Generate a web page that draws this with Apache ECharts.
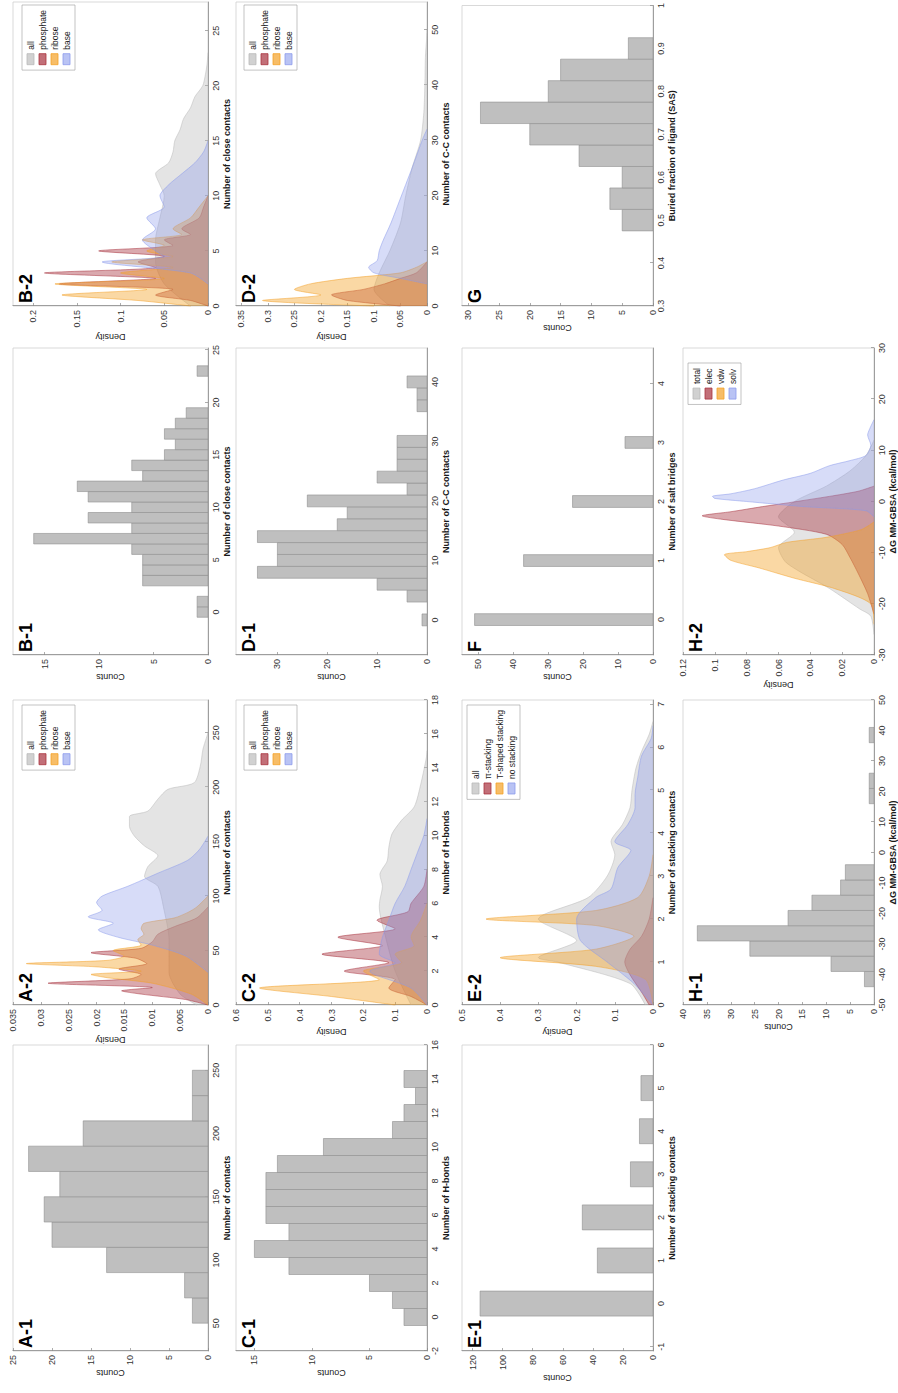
<!DOCTYPE html>
<html><head><meta charset="utf-8">
<script src="https://cdn.jsdelivr.net/npm/echarts@6/dist/echarts.min.js"></script>
<style>
html,body{margin:0;padding:0;background:#fff;width:898px;height:1393px;overflow:hidden}
#wrap{position:absolute;left:0;top:0;width:898px;height:1393px;overflow:hidden}
#chart{position:absolute;left:0;top:0;width:1393px;height:898px;transform-origin:0 0;transform:translate(0,1393px) rotate(-90deg)}
</style></head>
<body><div id="wrap"><div id="chart"></div></div>
<script>
// ================= DATA =================
const a1Edges  = [50,70,90,110,130,150,170,190,210,230,250];
const a1Counts = [2,3,13,20,21,19,23,16,2,2];
const a1XTicks = [50,100,150,200,250];
const a1YTicks = [0,5,10,15,20,25];
const a2All  = [[0,0.002],[10,0.005],[30,0.007],[60,0.007],[90,0.008],[109,0.009],[118,0.0114],[127,0.0108],[137,0.009],[146,0.0114],[155,0.0132],[164,0.0141],[173,0.0141],[178,0.0108],[189,0.009],[198,0.0072],[204,0.0025],[219,0.0014],[235,0.0009],[245,0.0003],[250,0]];
const a2Phos = [[0,0],[5,0.004],[10,0.012],[13,0.0155],[16,0.01],[20,0.0287],[24,0.014],[28,0.012],[33,0.016],[38,0.011],[43,0.013],[48,0.021],[52,0.012],[58,0.01],[65,0.009],[72,0.006],[80,0.002],[90,0]];
const a2Rib  = [[0,0],[10,0.003],[20,0.01],[25,0.018],[28,0.021],[31,0.012],[35,0.02],[38,0.0326],[41,0.018],[45,0.015],[50,0.017],[55,0.012],[60,0.0126],[65,0.0115],[70,0.012],[75,0.0115],[80,0.006],[85,0.0036],[90,0.002],[100,0]];
const a2Base = [[30,0],[45,0.004],[55,0.01],[62,0.016],[69,0.0197],[75,0.017],[81,0.0215],[87,0.019],[94,0.02],[100,0.019],[109,0.0144],[121,0.009],[133,0.0036],[143,0.0015],[155,0]];
const a2XTicks = [0,50,100,150,200,250];
const a2YTicks = [0,0.005,0.01,0.015,0.02,0.025,0.03,0.035];
const b1Edges  = [-0.5,0.5,1.5,2.5,3.5,4.5,5.5,6.5,7.5,8.5,9.5,10.5,11.5,12.5,13.5,14.5,15.5,16.5,17.5,18.5,19.5,20.5,21.5,22.5,23.5];
const b1Counts = [1,1,0,6,6,6,7,16,7,11,7,11,12,6,7,4,3,4,3,2,0,0,0,1];
const b1XTicks = [0,5,10,15,20,25];
const b1YTicks = [0,5,10,15];
const b2All  = [[0,0.02],[2,0.05],[4,0.06],[6,0.06],[8,0.055],[10,0.05],[11,0.055],[12,0.06],[13,0.045],[14,0.04],[15,0.038],[16,0.032],[17,0.028],[18,0.02],[19,0.015],[20,0.006],[21,0.003],[22,0.001],[23,0]];
const b2Phos = [[0,0],[0.5,0.02],[1,0.06],[1.5,0.04],[2,0.17],[2.5,0.06],[3,0.187],[3.5,0.06],[4,0.08],[4.5,0.05],[5,0.125],[5.5,0.04],[6,0.05],[6.5,0.02],[7,0.03],[8,0.01],[9,0.005],[10,0]];
const b2Rib  = [[0,0.02],[0.5,0.08],[1,0.167],[1.5,0.07],[2,0.175],[2.5,0.05],[3,0.1],[3.5,0.04],[4,0.11],[4.5,0.04],[5,0.07],[5.5,0.05],[6,0.075],[6.5,0.03],[7,0.04],[8,0.02],[9,0.01],[10,0]];
const b2Base = [[2,0],[3,0.02],[4,0.121],[4.5,0.05],[5,0.06],[6,0.075],[7,0.06],[8,0.07],[9,0.05],[10,0.055],[11,0.045],[12,0.03],[13,0.015],[14,0.005],[15,0]];
const b2XTicks = [0,5,10,15,20,25];
const b2YTicks = [0,0.05,0.1,0.15,0.2];
const c1Edges  = [-0.5,0.5,1.5,2.5,3.5,4.5,5.5,6.5,7.5,8.5,9.5,10.5,11.5,12.5,13.5,14.5];
const c1Counts = [2,3,5,12,15,12,14,14,14,13,9,3,2,1,2];
const c1XTicks = [-2,0,2,4,6,8,10,12,14,16];
const c1YTicks = [0,5,10,15];
const c2All  = [[0,0.05],[2,0.1],[4,0.13],[5.8,0.15],[6.2,0.148],[7,0.14],[7.7,0.148],[8.5,0.125],[9.3,0.12],[10.1,0.11],[10.9,0.08],[11.7,0.04],[13,0.02],[14.6,0.002],[15,0]];
const c2Phos = [[0,0],[0.5,0.05],[1,0.12],[1.5,0.1],[2,0.26],[2.5,0.12],[3,0.33],[3.5,0.14],[4,0.28],[4.5,0.1],[5,0.157],[5.5,0.06],[6,0.05],[7,0.01],[8,0]];
const c2Rib  = [[0,0.1],[0.5,0.3],[1,0.526],[1.5,0.15],[2,0.2],[2.5,0.08],[3,0.1],[3.5,0.04],[4,0.05],[5,0.02],[6,0]];
const c2Base = [[0,0],[1,0.05],[2,0.18],[2.5,0.1],[3,0.15],[4,0.14],[5,0.12],[6,0.1],[7,0.07],[8,0.05],[9,0.03],[10,0.01],[11,0]];
const c2XTicks = [0,2,4,6,8,10,12,14,16,18];
const c2YTicks = [0,0.1,0.2,0.3,0.4,0.5,0.6];
const d1Edges  = [-1,1,3,5,7,9,11,13,15,17,19,21,23,25,27,29,31,33,35,37,39,41];
const d1Counts = [1,0,4,10,34,30,30,34,18,16,24,4,10,6,6,6,0,0,2,2,4];
const d1XTicks = [0,10,20,30,40];
const d1YTicks = [0,10,20,30];
const d2All  = [[0,0.07],[3,0.1],[6,0.09],[10,0.07],[15,0.05],[20,0.04],[25,0.028],[30,0.012],[35,0.006],[40,0.004],[45,0.003],[48,0.001],[50,0]];
const d2Phos = [[0,0.05],[1,0.15],[2,0.18],[3,0.12],[4,0.08],[5,0.05],[6,0.02],[8,0]];
const d2Rib  = [[0,0.1],[1,0.31],[2,0.2],[3,0.25],[4,0.22],[5,0.15],[6,0.05],[7,0.02],[8,0]];
const d2Base = [[4,0],[5,0.05],[6,0.1],[7,0.11],[8.2,0.094],[10,0.09],[11.8,0.083],[15,0.068],[19,0.052],[22,0.04],[25,0.028],[30,0.009],[32,0]];
const d2XTicks = [0,10,20,30,40,50];
const d2YTicks = [0,0.05,0.1,0.15,0.2,0.25,0.3,0.35];
const e1Values = [0,1,2,3,4,5];
const e1Counts = [115,37,47,15,9,8];
const e1XTicks = [-1,0,1,2,3,4,5,6];
const e1YTicks = [0,20,40,60,80,100,120];
const e2All  = [[0,0.02],[0.5,0.06],[1,0.25],[1.1,0.3],[1.5,0.2],[2,0.3],[2.5,0.17],[3,0.12],[3.5,0.1],[3.8,0.11],[4.2,0.08],[4.6,0.06],[5,0.055],[5.5,0.045],[5.9,0.03],[6.3,0.01],[6.6,0]];
const e2S2   = [[0,0.01],[0.3,0.03],[0.7,0.06],[1,0.074],[1.3,0.06],[1.6,0.03],[2,0.01],[2.5,0]];
const e2S3   = [[0,0],[0.6,0.02],[0.9,0.15],[1.1,0.4],[1.3,0.15],[1.6,0.05],[1.85,0.15],[2,0.437],[2.2,0.15],[2.5,0.04],[3,0.01],[3.5,0]];
const e2S4   = [[0,0],[0.5,0.05],[1,0.12],[1.5,0.19],[2,0.2],[2.5,0.15],[2.7,0.11],[3.2,0.092],[3.6,0.058],[3.8,0.1],[4.2,0.066],[4.6,0.047],[4.9,0.047],[5.3,0.04],[5.8,0.03],[6.2,0.005],[6.5,0]];
const e2XTicks = [0,1,2,3,4,5,6,7];
const e2YTicks = [0,0.1,0.2,0.3,0.4,0.5];
const fValues = [0,1,2,3];
const fCounts = [51,37,23,8];
const fXTicks = [0,1,2,3,4];
const fYTicks = [0,10,20,30,40,50];
const gEdges  = [0.475,0.525,0.575,0.625,0.675,0.725,0.775,0.825,0.875,0.925];
const gCounts = [5,7,5,12,20,28,17,15,4];
const gXTicks = [0.3,0.4,0.5,0.6,0.7,0.8,0.9,1.0];
const gYTicks = [0,5,10,15,20,25,30];
const h1Edges  = [-44,-39,-34,-29,-24,-19,-14,-9,-4,1,6,11,16,21,26,31,36,41];
const h1Counts = [2,9,26,37,18,13,7,6,0,0,0,0,1,1,0,0,1];
const h1XTicks = [-50,-40,-30,-20,-10,0,10,20,30,40,50];
const h1YTicks = [0,5,10,15,20,25,30,35,40];
const h2All  = [[-26,0],[-22.4,0.002],[-21,0.009],[-17,0.028],[-12,0.055],[-9,0.06],[-6,0.05],[-3,0.06],[0,0.05],[3,0.03],[6,0.015],[9,0.005],[12,0]];
const h2S2   = [[-22,0],[-18,0.004],[-14,0.01],[-11,0.015],[-8.4,0.02],[-6.4,0.03],[-4.8,0.06],[-3.5,0.095],[-2.8,0.108],[-2,0.09],[-1,0.07],[-0.4,0.057],[1,0.028],[2,0.01],[3,0]];
const h2S3   = [[-24,0],[-20,0.002],[-17,0.025],[-15,0.05],[-13,0.072],[-11.5,0.09],[-10.4,0.094],[-9.8,0.08],[-9,0.065],[-8,0.055],[-7,0.03],[-5.5,0.008],[-4,0]];
const h2S4   = [[-3,0],[-1.8,0.005],[-1,0.044],[0,0.08],[0.6,0.1],[1,0.1015],[1.5,0.09],[2.5,0.075],[4.2,0.057],[5.5,0.04],[7,0.028],[8,0.015],[9,0.005],[11,0.002],[13,0.004],[14,0.003],[16,0]];
const h2XTicks = [-30,-20,-10,0,10,20,30];
const h2YTicks = [0,0.02,0.04,0.06,0.08,0.1,0.12];

const nucNames = ['all','phosphate','ribose','base'];
const e2Names  = ['all','π-stacking','T-shaped stacking','no stacking'];
const h2Names  = ['total','elec','vdw','solv'];

// ================= STYLE / LAYOUT =================
const FONT = '"Liberation Sans", Arial, Helvetica, sans-serif';
const COLS = [[42,348],[388,693],[738,1045],[1087,1391]];
const ROWS = [[13,208],[236,427],[462,653],[683,877]];
const PALETTE = ['#b9b9b9','#a8323e','#f4a127','#8b9bec'];
const AREA_ALPHA = [0.55,0.6,0.6,0.5];
const BAR_FILL = '#bfbfbf', BAR_EDGE = '#8e8e8e';

function rgba(hex,a){const n=parseInt(hex.slice(1),16);return `rgba(${(n>>16)&255},${(n>>8)&255},${n&255},${a})`;}

const option = {animation:false, backgroundColor:'#ffffff', textStyle:{fontFamily:FONT},
  grid:[], xAxis:[], yAxis:[], series:[], legend:[], graphic:[]};

function axisCommon(ticks){
  return {
    axisLine:{show:true,onZero:false,lineStyle:{color:'#8a8a8a',width:0.8}},
    axisTick:{show:true,inside:true,length:3,customValues:ticks,lineStyle:{color:'#8a8a8a',width:0.7}},
    axisLabel:{customValues:ticks,fontSize:9,color:'#333',fontFamily:FONT},
    splitLine:{show:false}
  };
}

function addPanel(p){
  const gi = option.grid.length;
  const [x0,x1] = COLS[p.c], [y0,y1] = ROWS[p.r];
  option.grid.push({left:x0,top:y0,width:x1-x0,height:y1-y0,show:true,borderColor:'#cfcfcf',borderWidth:0.8,backgroundColor:'rgba(0,0,0,0)'});
  const xa = axisCommon(p.xTicks); xa.axisLabel.margin = 3;
  option.xAxis.push(Object.assign(xa,{type:'value',gridIndex:gi,min:p.xMin,max:p.xMax,position:'bottom',
    name:p.xName,nameLocation:'middle',nameGap:14,
    nameTextStyle:{fontSize:9,fontWeight:'bold',color:'#1a1a1a',fontFamily:FONT}}));
  const ya = axisCommon(p.yTicks); ya.axisLabel.margin = 4;
  option.yAxis.push(Object.assign(ya,{type:'value',gridIndex:gi,min:0,max:p.yMax,position:'left',
    name:p.yName,nameLocation:'middle',nameGap:p.yGap||15,nameRotate:90,
    nameTextStyle:{fontSize:9,color:'#1a1a1a',fontFamily:FONT}}));
  option.graphic.push({type:'text',left:x0+3,top:y0+4,z:100,
    style:{text:p.id,font:`bold 18px ${FONT}`,fill:'#000'}});
  return gi;
}

function histSeries(gi,items){
  return {type:'custom',xAxisIndex:gi,yAxisIndex:gi,clip:true,data:items,
    encode:{x:[0,1],y:2},
    renderItem:(params,api)=>{
      const c = api.value(2); if(!c) return null;
      const p0 = api.coord([api.value(0),c]);
      const p1 = api.coord([api.value(1),0]);
      return {type:'rect',shape:{x:p0[0],y:p0[1],width:p1[0]-p0[0],height:p1[1]-p0[1]},
        style:{fill:BAR_FILL,stroke:BAR_EDGE,lineWidth:0.6}};
    }};
}
function binItems(edges,counts){return counts.map((c,i)=>[edges[i],edges[i+1],c]);}
function barItems(vals,counts,half){return counts.map((c,i)=>[vals[i]-half,vals[i]+half,c]);}

function addDensity(gi,panelId,names,arrays,legendPos){
  const ldata=[];
  arrays.forEach((arr,k)=>{
    const nm = panelId+'|'+names[k];
    option.series.push({type:'line',name:nm,xAxisIndex:gi,yAxisIndex:gi,data:arr,showSymbol:false,
      smooth:0.25,z:2+k,clip:true,
      lineStyle:{color:rgba(PALETTE[k],0.85),width:0.6},
      itemStyle:{color:PALETTE[k]},
      areaStyle:{color:rgba(PALETTE[k],AREA_ALPHA[k])}});
    ldata.push({name:nm,itemStyle:{color:rgba(PALETTE[k],AREA_ALPHA[k]+0.1),borderColor:PALETTE[k],borderWidth:0.8}});
  });
  option.legend.push({orient:'vertical',right:1393-legendPos[0],top:legendPos[1],data:ldata,
    formatter:n=>n.split('|')[1],icon:'rect',itemWidth:11,itemHeight:7,itemGap:3,padding:[4,5],
    borderColor:'#9a9a9a',borderWidth:0.6,backgroundColor:'#fff',selectedMode:false,
    textStyle:{fontSize:8.5,color:'#222',fontFamily:FONT,padding:[0,0,0,-1]}});
}

// ================= PANELS =================
let g;
g = addPanel({id:'A-1',r:0,c:0,xMin:28,xMax:270,yMax:25,xTicks:a1XTicks,yTicks:a1YTicks,xName:'Number of contacts',yName:'Counts'});
option.series.push(histSeries(g,binItems(a1Edges,a1Counts)));

g = addPanel({id:'A-2',r:0,c:1,xMin:0,xMax:280,yMax:0.035,xTicks:a2XTicks,yTicks:a2YTicks,xName:'Number of contacts',yName:'Density',yGap:28});
addDensity(g,'A-2',nucNames,[a2All,a2Phos,a2Rib,a2Base],[688,22]);

g = addPanel({id:'B-1',r:0,c:2,xMin:-4.1,xMax:25.2,yMax:17.9,xTicks:b1XTicks,yTicks:b1YTicks,xName:'Number of close contacts',yName:'Counts'});
option.series.push(histSeries(g,binItems(b1Edges,b1Counts)));

g = addPanel({id:'B-2',r:0,c:3,xMin:0,xMax:27.6,yMax:0.223,xTicks:b2XTicks,yTicks:b2YTicks,xName:'Number of close contacts',yName:'Density',yGap:26});
addDensity(g,'B-2',nucNames,[b2All,b2Phos,b2Rib,b2Base],[1388,22]);

g = addPanel({id:'C-1',r:1,c:0,xMin:-2,xMax:16,yMax:16.6,xTicks:c1XTicks,yTicks:c1YTicks,xName:'Number of H-bonds',yName:'Counts'});
option.series.push(histSeries(g,binItems(c1Edges,c1Counts)));

g = addPanel({id:'C-2',r:1,c:1,xMin:0,xMax:18,yMax:0.6,xTicks:c2XTicks,yTicks:c2YTicks,xName:'Number of H-bonds',yName:'Density',yGap:22});
addDensity(g,'C-2',nucNames,[c2All,c2Phos,c2Rib,c2Base],[688,244]);

g = addPanel({id:'D-1',r:1,c:2,xMin:-5.9,xMax:45.7,yMax:38.3,xTicks:d1XTicks,yTicks:d1YTicks,xName:'Number of C-C contacts',yName:'Counts'});
option.series.push(histSeries(g,binItems(d1Edges,d1Counts)));

g = addPanel({id:'D-2',r:1,c:3,xMin:0,xMax:55,yMax:0.36,xTicks:d2XTicks,yTicks:d2YTicks,xName:'Number of C-C contacts',yName:'Density',yGap:26});
addDensity(g,'D-2',nucNames,[d2All,d2Phos,d2Rib,d2Base],[1388,244]);

g = addPanel({id:'E-1',r:2,c:0,xMin:-1.1,xMax:6,yMax:127,xTicks:e1XTicks,yTicks:e1YTicks,xName:'Number of stacking contacts',yName:'Counts',yGap:22});
option.series.push(histSeries(g,barItems(e1Values,e1Counts,0.29)));

g = addPanel({id:'E-2',r:2,c:1,xMin:0,xMax:7.1,yMax:0.5,xTicks:e2XTicks,yTicks:e2YTicks,xName:'Number of stacking contacts',yName:'Density',yGap:22});
addDensity(g,'E-2',e2Names,[e2All,e2S2,e2S3,e2S4],[688,467]);

g = addPanel({id:'F',r:2,c:2,xMin:-0.6,xMax:4.6,yMax:54.6,xTicks:fXTicks,yTicks:fYTicks,xName:'Number of salt bridges',yName:'Counts'});
option.series.push(histSeries(g,barItems(fValues,fCounts,0.1)));

g = addPanel({id:'G',r:2,c:3,xMin:0.3,xMax:1.0,yMax:31,xTicks:gXTicks,yTicks:gYTicks,xName:'Buried fraction of ligand (SAS)',yName:'Counts'});
option.series.push(histSeries(g,binItems(gEdges,gCounts)));

g = addPanel({id:'H-1',r:3,c:1,xMin:-50,xMax:50,yMax:40,xTicks:h1XTicks,yTicks:h1YTicks,xName:'ΔG MM-GBSA (kcal/mol)',yName:'Counts'});
option.series.push(histSeries(g,binItems(h1Edges,h1Counts)));

g = addPanel({id:'H-2',r:3,c:2,xMin:-30,xMax:30,yMax:0.12,xTicks:h2XTicks,yTicks:h2YTicks,xName:'ΔG MM-GBSA (kcal/mol)',yName:'Density',yGap:24});
addDensity(g,'H-2',h2Names,[h2All,h2S2,h2S3,h2S4],[1030,688]);

const chart = echarts.init(document.getElementById('chart'),null,{renderer:'svg',width:1393,height:898});
chart.setOption(option);
</script>
</body></html>
